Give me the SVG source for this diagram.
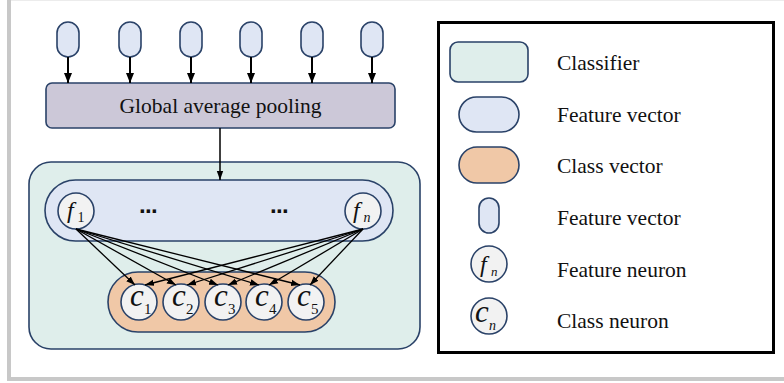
<svg xmlns="http://www.w3.org/2000/svg" width="784" height="383" viewBox="0 0 784 383">
  <style>
    .ln { stroke: #2a4268; stroke-width: 1.6; }
    .fv { fill: #dfe6f4; }
    .cv { fill: #f0c8a7; }
    .cl { fill: #dfeeeb; }
    .gp { fill: #ccc8d8; }
    .nr { fill: #f2f2f2; }
    .t { font-family: "Liberation Serif", "Times New Roman", serif; fill: #111; }
    .lg { font-size: 21.5px; }
    .it { font-style: italic; }
    .dots { font-family: "Liberation Sans", Arial, sans-serif; font-weight: bold; font-size: 24px; letter-spacing: -0.6px; fill: #111; }
    .arr { stroke: #000; fill: none; }
  </style>
  <defs>
    <marker id="headBig" markerUnits="userSpaceOnUse" markerWidth="10" markerHeight="10" viewBox="0 0 10 10" refX="10" refY="5" orient="auto">
      <path d="M0,1 L10,5 L0,9 Z" fill="#000"/>
    </marker>
    <marker id="headSmall" markerUnits="userSpaceOnUse" markerWidth="9" markerHeight="8" viewBox="0 0 9 8" refX="9" refY="4" orient="auto">
      <path d="M0,0.8 L9,4 L0,7.2 Z" fill="#000"/>
    </marker>
  </defs>

  <!-- page frame -->
  <rect x="0" y="0" width="784" height="383" fill="#ffffff"/>
  <rect x="11" y="0" width="773" height="1" fill="#ececec"/>
  <rect x="7" y="0" width="4" height="381" fill="#c8c8c8"/>
  <rect x="7" y="377" width="777" height="4" fill="#c8c8c8"/>

  <!-- input feature vectors -->
  <g id="inputs">
    <rect class="ln fv" x="57" y="22" width="22" height="35" rx="11"/>
    <rect class="ln fv" x="119" y="22" width="22" height="35" rx="11"/>
    <rect class="ln fv" x="180" y="22" width="22" height="35" rx="11"/>
    <rect class="ln fv" x="240" y="22" width="22" height="35" rx="11"/>
    <rect class="ln fv" x="301" y="22" width="22" height="35" rx="11"/>
    <rect class="ln fv" x="361" y="22" width="22" height="35" rx="11"/>
  </g>

  <!-- pooling layer -->
  <g id="gap">
    <rect class="ln gp" x="46" y="83" width="349" height="45" rx="6"/>
    <text class="t" x="220.5" y="113" font-size="21.5" text-anchor="middle">Global average pooling</text>
  </g>

  <!-- classifier -->
  <g id="classifier">
    <rect class="ln cl" x="29" y="162" width="391" height="187" rx="22"/>
  </g>
  <g id="feature-vector">
    <rect class="ln fv" x="45" y="180" width="348" height="61" rx="30.5"/>
    <text class="dots" x="148" y="213" text-anchor="middle">...</text>
    <text class="dots" x="279" y="213" text-anchor="middle">...</text>
  </g>
  <g id="class-vector">
    <rect class="ln cv" x="108" y="272" width="227" height="60" rx="30"/>
  </g>

  <g id="f1">
    <circle class="ln nr" cx="76" cy="211" r="18"/>
    <text class="t it" x="67" y="218" font-size="24">f</text>
    <text class="t" x="77.5" y="222" font-size="14">1</text>
  </g>
  <g id="fn">
    <circle class="ln nr" cx="363" cy="211" r="18"/>
    <text class="t it" x="353" y="218" font-size="24">f</text>
    <text class="t it" x="363.5" y="222" font-size="14">n</text>
  </g>

  <g id="c1">
    <circle class="ln nr" cx="139" cy="302" r="18"/>
    <text class="t it" x="130" y="306" font-size="31">c</text>
    <text class="t" x="144" y="314" font-size="15">1</text>
  </g>
  <g id="c2">
    <circle class="ln nr" cx="181" cy="302" r="18"/>
    <text class="t it" x="172" y="306" font-size="31">c</text>
    <text class="t" x="186" y="314" font-size="15">2</text>
  </g>
  <g id="c3">
    <circle class="ln nr" cx="223" cy="302" r="18"/>
    <text class="t it" x="214" y="306" font-size="31">c</text>
    <text class="t" x="228" y="314" font-size="15">3</text>
  </g>
  <g id="c4">
    <circle class="ln nr" cx="264" cy="302" r="18"/>
    <text class="t it" x="255" y="306" font-size="31">c</text>
    <text class="t" x="269" y="314" font-size="15">4</text>
  </g>
  <g id="c5">
    <circle class="ln nr" cx="306" cy="302" r="18"/>
    <text class="t it" x="297" y="306" font-size="31">c</text>
    <text class="t" x="311" y="314" font-size="15">5</text>
  </g>

  <!-- connectors -->
  <g id="connectors" class="arr">
    <g stroke-width="2" marker-end="url(#headBig)">
      <line x1="68" y1="57" x2="68" y2="83"/>
      <line x1="130" y1="57" x2="130" y2="83"/>
      <line x1="191" y1="57" x2="191" y2="83"/>
      <line x1="251" y1="57" x2="251" y2="83"/>
      <line x1="312" y1="57" x2="312" y2="83"/>
      <line x1="372" y1="57" x2="372" y2="83"/>
    </g>
    <line x1="220" y1="128" x2="220" y2="180" stroke-width="1.5" marker-end="url(#headSmall)"/>
    <g stroke-width="1.3" marker-end="url(#headSmall)">
      <line x1="76" y1="229" x2="135" y2="285"/>
      <line x1="76" y1="229" x2="176" y2="285"/>
      <line x1="76" y1="229" x2="218" y2="285"/>
      <line x1="76" y1="229" x2="259" y2="285"/>
      <line x1="76" y1="229" x2="300" y2="285"/>
      <line x1="363" y1="229" x2="145" y2="285"/>
      <line x1="363" y1="229" x2="187" y2="285"/>
      <line x1="363" y1="229" x2="228" y2="285"/>
      <line x1="363" y1="229" x2="269" y2="285"/>
      <line x1="363" y1="229" x2="310" y2="285"/>
    </g>
  </g>

  <!-- legend -->
  <g id="legend">
    <rect x="438.5" y="22.5" width="335" height="330" fill="#fff" stroke="#000" stroke-width="3"/>
    <g id="legend-classifier">
      <rect class="ln cl" x="450" y="42" width="78" height="40" rx="8"/>
      <text class="t lg" x="557" y="70">Classifier</text>
    </g>
    <g id="legend-feature-vector">
      <rect class="ln fv" x="459" y="97" width="60" height="35" rx="17.5"/>
      <text class="t lg" x="557" y="122">Feature vector</text>
    </g>
    <g id="legend-class-vector">
      <rect class="ln cv" x="459" y="147" width="60" height="36" rx="18"/>
      <text class="t lg" x="557" y="173">Class vector</text>
    </g>
    <g id="legend-feature-element">
      <rect class="ln fv" x="479" y="198" width="20" height="35" rx="10"/>
      <text class="t lg" x="557" y="225">Feature vector</text>
    </g>
    <g id="legend-feature-neuron">
      <circle class="ln nr" cx="489" cy="264" r="18"/>
      <text class="t it" x="480" y="272" font-size="24">f</text>
      <text class="t it" x="491" y="276" font-size="13">n</text>
      <text class="t lg" x="557" y="277">Feature neuron</text>
    </g>
    <g id="legend-class-neuron">
      <circle class="ln nr" cx="489" cy="316" r="18"/>
      <text class="t it" x="475" y="322" font-size="31">c</text>
      <text class="t it" x="489" y="330" font-size="14">n</text>
      <text class="t lg" x="557" y="328">Class neuron</text>
    </g>
  </g>
</svg>
